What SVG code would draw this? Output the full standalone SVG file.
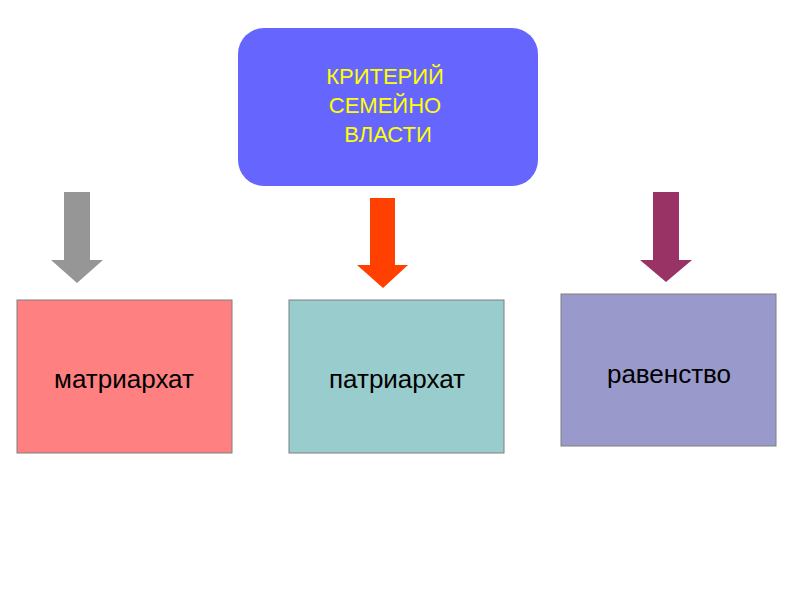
<svg xmlns="http://www.w3.org/2000/svg" width="794" height="595" viewBox="0 0 794 595">
<style>
text{font-family:"Liberation Sans",Arial,sans-serif;text-anchor:middle}
.box{stroke:#7f7f7f;stroke-width:1}
.t{font-size:26px;fill:#000}
</style>
<rect width="794" height="595" fill="#fff"/>
<g id="top">
<rect x="238" y="28" width="300" height="158" rx="26" fill="#6666ff"/>
<text x="385" y="84" font-size="22" fill="#ffff00">КРИТЕРИЙ</text>
<text x="385" y="113" font-size="22" fill="#ffff00">СЕМЕЙНО</text>
<text x="388" y="142" font-size="22" fill="#ffff00">ВЛАСТИ</text>
</g>
<g id="connectors">
<polygon points="64,192 90,192 90,260 103,260 77,283 51,260 64,260" fill="#969696"/>
<polygon points="370,198 395,198 395,265 408,265 383,288 357,265 370,265" fill="#ff4000"/>
<polygon points="653,192 679,192 679,260 692,260 666,282 640,260 653,260" fill="#993366"/>
</g>
<g id="n1"><rect class="box" x="17" y="300" width="215" height="153" fill="#ff8080"/><text class="t" x="124" y="388">матриархат</text></g>
<g id="n2"><rect class="box" x="289" y="300" width="215" height="153" fill="#99cccc"/><text class="t" x="397" y="388">патриархат</text></g>
<g id="n3"><rect class="box" x="561" y="294" width="215" height="152" fill="#9999cc"/><text class="t" x="669" y="383">равенство</text></g>
</svg>
